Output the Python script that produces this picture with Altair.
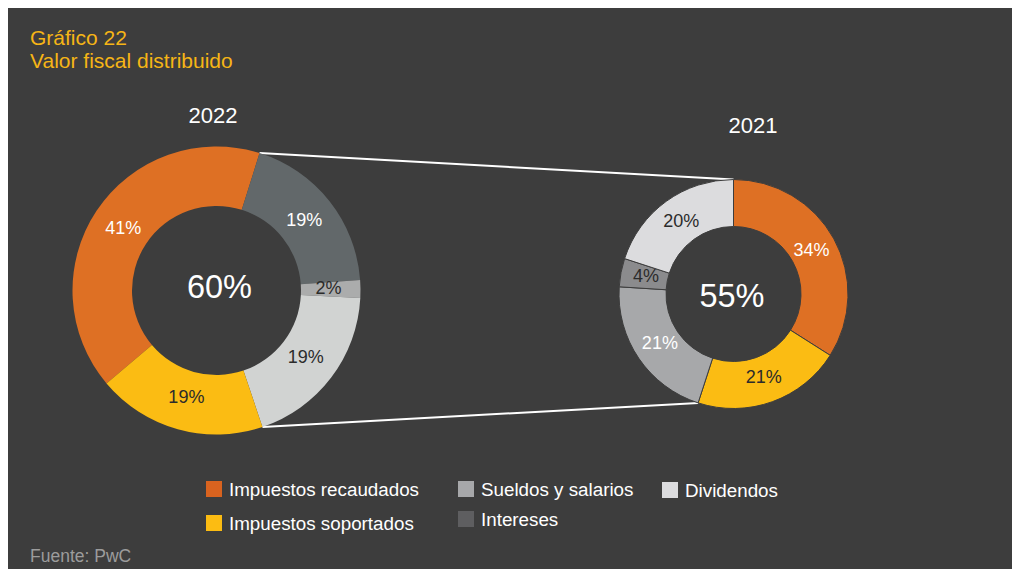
import math
import altair as alt
import pandas as pd

# ---------------- data ----------------
title_lines = ["Gráfico 22", "Valor fiscal distribuido"]
source_text = "Fuente: PwC"
years = ["2022", "2021"]
totals = [60, 55]

# slices, in clockwise drawing order
cats_2022 = ["Impuestos recaudados", "Sueldos y salarios", "Intereses", "Dividendos", "Impuestos soportados"]
vals_2022 = [41, 19, 2, 19, 19]
cols_2022 = ["#de7024", "#62686a", "#abacac", "#d1d3d2", "#fbbc13"]
txtc_2022 = ["#ffffff", "#ffffff", "#2b2b2b", "#2b2b2b", "#2b2b2b"]

cats_2021 = ["Impuestos recaudados", "Impuestos soportados", "Sueldos y salarios", "Intereses", "Dividendos"]
vals_2021 = [34, 21, 21, 4, 20]
cols_2021 = ["#de7024", "#fbbc13", "#a7a8aa", "#8b8b8d", "#dcdcde"]
txtc_2021 = ["#ffffff", "#2b2b2b", "#ffffff", "#2b2b2b", "#2b2b2b"]

legend_labels = ["Impuestos recaudados", "Impuestos soportados", "Sueldos y salarios", "Intereses", "Dividendos"]
legend_colors = ["#d9631f", "#fcbc12", "#a7a8aa", "#5e5e60", "#dcdcde"]

# ---------------- layout (page pixel coordinates) ----------------
OFF = 8
W, H = 1004, 561
BG = "#3d3d3d"
FONT = "Liberation Sans"
layout = {
    "2022": dict(cx=216.5, cy=290.5, r_out=144, r_in=84.5, r_lab=112, start=229.8,
                 year_xy=(213, 123), tot_xy=(219.5, 298), stroke=0),
    "2021": dict(cx=733.5, cy=294, r_out=114.5, r_in=67.5, r_lab=89, start=0.0,
                 year_xy=(753, 133), tot_xy=(732, 307), stroke=1),
}
legend_sq = [(214, 489), (214, 523), (466, 489), (466, 519), (670, 490)]
legend_gap = 15

xs = alt.Scale(domain=[OFF, OFF + W], nice=False, zero=False)
ys = alt.Scale(domain=[OFF, OFF + H], reverse=True, nice=False, zero=False)


def X(f):
    return alt.X(f, type="quantitative", scale=xs, axis=None)


def Y(f):
    return alt.Y(f, type="quantitative", scale=ys, axis=None)


def angles(vals, start_deg):
    tot = sum(vals)
    t = math.radians(start_deg)
    out = []
    for v in vals:
        t1 = t + 2 * math.pi * v / tot
        out.append((t, t1))
        t = t1
    return out


def pt(cx, cy, r, a):
    return cx + r * math.sin(a), cy - r * math.cos(a)


series = {
    "2022": (cats_2022, vals_2022, cols_2022, txtc_2022),
    "2021": (cats_2021, vals_2021, cols_2021, txtc_2021),
}

arc_layers = []
label_rows = []
ang = {}
for yr in years:
    cats, vals, cols, tcs = series[yr]
    L = layout[yr]
    a = angles(vals, L["start"])
    ang[yr] = a
    rows = []
    for c, v, col, tc, (t0, t1) in zip(cats, vals, cols, tcs, a):
        rows.append(dict(cat=c, value=v, t0=t0, t1=t1, color=col))
        lx, ly = pt(L["cx"], L["cy"], L["r_lab"], (t0 + t1) / 2)
        label_rows.append(dict(x=lx, y=ly, label=f"{v}%", color=tc))
    df = pd.DataFrame(rows)
    arc_kw = dict(innerRadius=L["r_in"], outerRadius=L["r_out"])
    if L["stroke"]:
        arc_kw.update(stroke=BG, strokeWidth=L["stroke"])
    arc_layers.append(alt.Chart(df).mark_arc(**arc_kw).encode(
        x=alt.value(L["cx"] - OFF),
        y=alt.value(L["cy"] - OFF),
        theta=alt.Theta("t0:Q", scale=None, stack=None),
        theta2=alt.Theta2("t1:Q"),
        color=alt.Color("color:N", scale=None),
        tooltip=["cat:N", "value:Q"],
    ))

# connecting lines between the donuts
L22, L21 = layout["2022"], layout["2021"]
top_a = pt(L22["cx"], L22["cy"], L22["r_out"], ang["2022"][1][0])
top_b = pt(L21["cx"], L21["cy"], L21["r_out"], ang["2021"][0][0])
bot_a = pt(L22["cx"], L22["cy"], L22["r_out"], ang["2022"][4][0])
bot_b = pt(L21["cx"], L21["cy"], L21["r_out"], ang["2021"][2][0])
lines_df = pd.DataFrame([
    dict(x=top_a[0], y=top_a[1], x2=top_b[0], y2=top_b[1]),
    dict(x=bot_a[0], y=bot_a[1], x2=bot_b[0], y2=bot_b[1]),
])
lines = alt.Chart(lines_df).mark_rule(color="#ffffff", strokeWidth=2).encode(
    x=X("x"), y=Y("y"), x2="x2", y2="y2")

labels = alt.Chart(pd.DataFrame(label_rows)).mark_text(
    font=FONT, fontSize=18, baseline="middle", align="center").encode(
    x=X("x"), y=Y("y"), text="label:N", color=alt.Color("color:N", scale=None))

# year titles and totals
yt_rows, tot_rows = [], []
for yr, tv in zip(years, totals):
    L = layout[yr]
    yt_rows.append(dict(x=L["year_xy"][0], y=L["year_xy"][1], t=yr))
    tot_rows.append(dict(x=L["tot_xy"][0], y=L["tot_xy"][1], t=f"{tv}%"))
year_txt = alt.Chart(pd.DataFrame(yt_rows)).mark_text(
    font=FONT, fontSize=22, color="#ffffff", align="center", baseline="alphabetic").encode(
    x=X("x"), y=Y("y"), text="t:N")
tot_txt = alt.Chart(pd.DataFrame(tot_rows)).mark_text(
    font=FONT, fontSize=32.5, color="#ffffff", align="center", baseline="alphabetic").encode(
    x=X("x"), y=Y("y"), text="t:N")

# title and source
title_df = pd.DataFrame([dict(x=30, y=45, t=title_lines[0]), dict(x=30, y=68, t=title_lines[1])])
title_txt = alt.Chart(title_df).mark_text(
    font=FONT, fontSize=21, color="#f6b516", align="left", baseline="alphabetic").encode(
    x=X("x"), y=Y("y"), text="t:N")
src_txt = alt.Chart(pd.DataFrame([dict(x=30, y=562, t=source_text)])).mark_text(
    font=FONT, fontSize=17.5, color="#9c9c9c", align="left", baseline="alphabetic").encode(
    x=X("x"), y=Y("y"), text="t:N")

# legend
leg_df = pd.DataFrame([
    dict(label=l, color=c, x=sx, y=sy, tx=sx + legend_gap, ty=sy + 7)
    for l, c, (sx, sy) in zip(legend_labels, legend_colors, legend_sq)
])
leg_sq = alt.Chart(leg_df).mark_square(size=256, opacity=1, strokeWidth=0).encode(
    x=X("x"), y=Y("y"), color=alt.Color("color:N", scale=None))
leg_txt = alt.Chart(leg_df).mark_text(
    font=FONT, fontSize=18.8, color="#ffffff", align="left", baseline="alphabetic").encode(
    x=X("tx"), y=Y("ty"), text="label:N")

chart = alt.layer(
    lines,
    arc_layers[0], arc_layers[1],
    labels, year_txt, tot_txt, title_txt, src_txt, leg_sq, leg_txt,
).properties(
    width=W, height=H, padding=0,
    autosize=alt.AutoSizeParams(type="none"),
    background=BG,
).configure_view(stroke=None)

chart.save("out.html", embed_options={"renderer": "svg", "actions": False})
